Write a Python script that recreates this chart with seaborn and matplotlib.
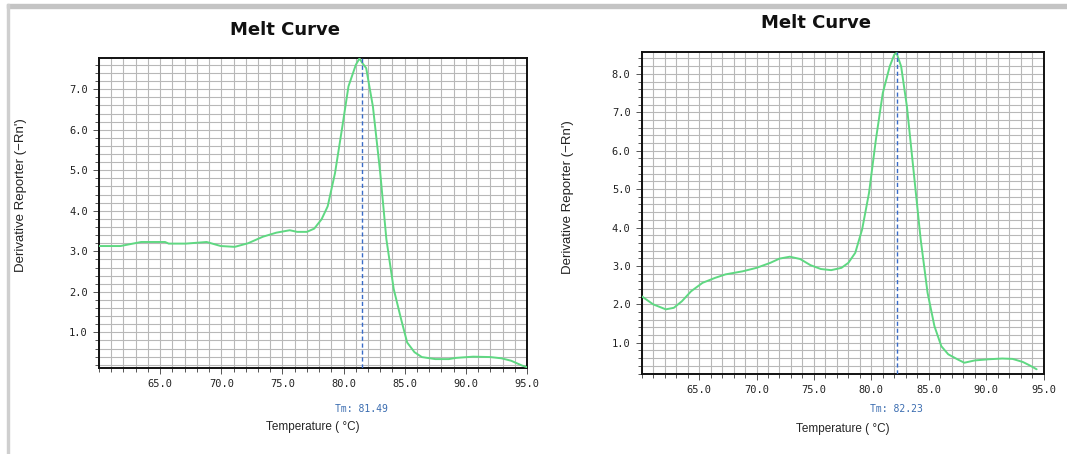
import numpy as np
import matplotlib
matplotlib.use("Agg")
import matplotlib.pyplot as plt
from matplotlib.patches import Rectangle
from matplotlib.ticker import MultipleLocator, FormatStrFormatter
import seaborn as sns

### melt curve 1 (Tm 81.49)
temp_a = [60.0, 61.75, 63.45, 65.4, 65.7, 67.1, 68.8, 69.96, 71.1, 72.2, 73.4, 74.5,
          75.6, 76.2, 77.0, 77.6, 78.2, 78.7, 79.3, 79.9, 80.4, 81.0, 81.3, 81.55,
          81.85, 82.4, 83.0, 83.5, 84.1, 84.7, 85.2, 85.8, 86.4, 87.5, 88.6, 89.2,
          90.6, 92.0, 92.9, 93.7, 94.6, 95.0]
deriv_a = [3.13, 3.13, 3.23, 3.23, 3.19, 3.19, 3.23, 3.13, 3.11, 3.20, 3.36, 3.46,
           3.52, 3.48, 3.48, 3.56, 3.79, 4.11, 4.93, 6.08, 7.07, 7.60, 7.76, 7.64,
           7.52, 6.57, 4.93, 3.30, 2.07, 1.33, 0.75, 0.51, 0.39, 0.34, 0.34, 0.37,
           0.40, 0.39, 0.36, 0.30, 0.18, 0.14]
tm_a = 81.49

### melt curve 2 (Tm 82.23)
temp_b = [60.0, 61.0, 62.1, 62.8, 63.5, 64.3, 65.3, 66.4, 67.3, 68.8, 70.0, 71.2,
          72.0, 72.9, 73.8, 74.7, 75.6, 76.5, 77.4, 78.0, 78.6, 79.2, 79.8, 80.4,
          81.0, 81.6, 82.0, 82.2, 82.6, 83.1, 83.7, 84.3, 84.9, 85.5, 86.1, 86.7,
          87.5, 88.1, 89.0, 90.2, 91.4, 92.3, 93.2, 93.8, 94.4]
deriv_b = [2.21, 2.00, 1.87, 1.91, 2.08, 2.34, 2.56, 2.69, 2.78, 2.86, 2.95, 3.08,
           3.19, 3.24, 3.18, 3.02, 2.92, 2.89, 2.95, 3.08, 3.34, 3.95, 4.90, 6.29,
           7.50, 8.19, 8.50, 8.54, 8.19, 7.15, 5.42, 3.69, 2.30, 1.43, 0.91, 0.70,
           0.57, 0.48, 0.54, 0.57, 0.59, 0.58, 0.50, 0.41, 0.31]
tm_b = 82.23

x_ticks = [65.0, 70.0, 75.0, 80.0, 85.0, 90.0, 95.0]

sns.set_style("white")
plt.rcParams['font.family'] = ['DejaVu Sans']

fig = plt.figure(figsize=(10.67, 4.54), dpi=100)

# frame decoration of the screenshot
fig.patches.append(Rectangle((7 / 1067, 1 - 8 / 454), 1 - 7 / 1067, 4 / 454,
                             transform=fig.transFigure, color='#c4c4c4', zorder=0))
fig.patches.append(Rectangle((7 / 1067, 0), 1.5 / 1067, 1 - 4 / 454,
                             transform=fig.transFigure, color='#cfcfcf', zorder=0))

panels = [
    dict(temp=temp_a, deriv=deriv_a, tm=tm_a, rect=[0.0928, 0.1894, 0.4011, 0.6828],
         ylim=(0.12, 7.77), ymax_tick=7.0, title_xy=(285 / 1067, 1 - 30 / 454),
         tm_off=-41, xlab_y=-0.19, ylab=(-0.183, 0.558)),
    dict(temp=temp_b, deriv=deriv_b, tm=tm_b, rect=[0.6014, 0.1773, 0.3766, 0.7075],
         ylim=(0.20, 8.56), ymax_tick=8.0, title_xy=(816 / 1067, 1 - 23 / 454),
         tm_off=-35.5, xlab_y=-0.173, ylab=(-0.184, 0.55)),
]

for p in panels:
    ax = fig.add_axes(p['rect'])
    sns.lineplot(x=p['temp'], y=p['deriv'], ax=ax, color='#5fd882', linewidth=1.4,
                 zorder=3)
    ax.axvline(p['tm'], color='#3a6cc8', linewidth=1.0, linestyle=(0, (3, 2)), zorder=4)

    ax.set_xlim(60, 95)
    ax.set_ylim(*p['ylim'])
    ax.set_xticks(x_ticks)
    ax.set_yticks(np.arange(1.0, p['ymax_tick'] + 0.01, 1.0))
    ax.xaxis.set_minor_locator(MultipleLocator(1.0))
    ax.yaxis.set_minor_locator(MultipleLocator(0.2))
    ax.xaxis.set_major_formatter(FormatStrFormatter('%.1f'))
    ax.yaxis.set_major_formatter(FormatStrFormatter('%.1f'))
    ax.grid(which='both', color='#b8b8b8', linewidth=0.8)
    ax.set_axisbelow(True)

    ax.tick_params(which='both', direction='out', color='#555555', width=0.7,
                   bottom=True, left=True, top=False, right=False)
    ax.tick_params(which='major', length=4, pad=4, labelsize=7.5, labelcolor='#222222')
    ax.tick_params(which='minor', length=3)
    for lab in ax.get_xticklabels() + ax.get_yticklabels():
        lab.set_family('DejaVu Sans Mono')

    for s in ax.spines.values():
        s.set_color('#111111')
        s.set_linewidth(1.4)

    ax.set_xlabel("Temperature ( °C)", fontsize=8.5, family='Liberation Sans')
    ax.xaxis.label.set_va('center')
    ax.xaxis.set_label_coords(0.5, p['xlab_y'])
    ax.set_ylabel("Derivative Reporter (−Rn')", fontsize=9.5, family='Liberation Sans',
                  color='#222222')
    ax.yaxis.label.set_va('center')
    ax.yaxis.set_label_coords(*p['ylab'])

    ax.annotate(f"Tm: {p['tm']:.2f}", xy=(p['tm'], 0), xycoords=('data', 'axes fraction'),
                xytext=(0, p['tm_off'] * 0.72), textcoords='offset points',
                ha='center', va='center', fontsize=7, color='#3a6cb0',
                family='DejaVu Sans Mono')

    fig.text(p['title_xy'][0], p['title_xy'][1], "Melt Curve", ha='center', va='center',
             fontsize=13, fontweight='bold', color='#111111')

fig.savefig("out.png", dpi=100)
